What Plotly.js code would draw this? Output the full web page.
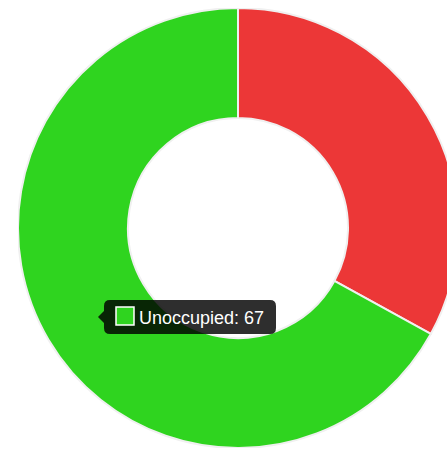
<!DOCTYPE html>
<html>
<head>
<meta charset="utf-8">
<script src="https://cdn.plot.ly/plotly-3.0.1.min.js"></script>
<style>
html,body{margin:0;padding:0;width:447px;height:449px;overflow:hidden;background:#fff;}
#chart{position:absolute;left:18px;top:8px;width:440px;height:440px;}
</style>
</head>
<body>
<div id="chart"></div>
<script>
const labels = ["Occupied", "Unoccupied"];
const values = [33, 67];
const colors = ["#ec3737", "#2fd41f"];
const tooltipLabel = "Unoccupied";
const tooltipValue = 67;

const W = 440, H = 440, OX = 18, OY = 8;
function px(x){ return (x - OX) / W; }
function py(y){ return 1 - (y - OY) / H; }

// tooltip box (rounded rect with caret on left)
const x0 = 104, x1 = 276, y0 = 300, y1 = 334, r = 6;
const pts = [
  ["M", x0 + r, y0],
  ["L", x1 - r, y0],
  ["Q", x1, y0, x1, y0 + r],
  ["L", x1, y1 - r],
  ["Q", x1, y1, x1 - r, y1],
  ["L", x0 + r, y1],
  ["Q", x0, y1, x0, y1 - r],
  ["L", x0, 323],
  ["L", 98, 317],
  ["L", x0, 311],
  ["L", x0, y0 + r],
  ["Q", x0, y0, x0 + r, y0]
];
let path = "";
pts.forEach(p => {
  path += p[0];
  for (let i = 1; i < p.length; i += 2) {
    path += (i > 1 ? " " : "") + px(p[i]).toFixed(5) + "," + py(p[i+1]).toFixed(5);
  }
  path += " ";
});
path += "Z";

const data = [{
  type: "pie",
  labels: labels,
  values: values,
  sort: false,
  direction: "clockwise",
  rotation: 0,
  hole: 0.5,
  textinfo: "none",
  hoverinfo: "none",
  marker: { colors: colors, line: { color: "#f0f0f0", width: 2 } },
  domain: { x: [0, 1], y: [0, 1] }
}];

const layout = {
  width: W, height: H,
  margin: { l: 0, r: 0, t: 0, b: 0 },
  paper_bgcolor: "rgba(0,0,0,0)",
  showlegend: false,
  shapes: [
    { type: "path", xref: "paper", yref: "paper", path: path,
      fillcolor: "rgba(0,0,0,0.82)", line: { width: 0 } },
    { type: "rect", xref: "paper", yref: "paper",
      x0: px(116), x1: px(134), y0: py(307), y1: py(325),
      fillcolor: colors[1], line: { color: "#ffffff", width: 1.5 } }
  ],
  annotations: [{
    xref: "paper", yref: "paper",
    x: px(137), y: py(317.5), xanchor: "left", yanchor: "middle",
    text: tooltipLabel + ": " + tooltipValue,
    showarrow: false,
    font: { family: "Liberation Sans, Arial, sans-serif", size: 18, color: "#ffffff" }
  }]
};

Plotly.newPlot("chart", data, layout, { displayModeBar: false, staticPlot: true });
</script>
</body>
</html>
